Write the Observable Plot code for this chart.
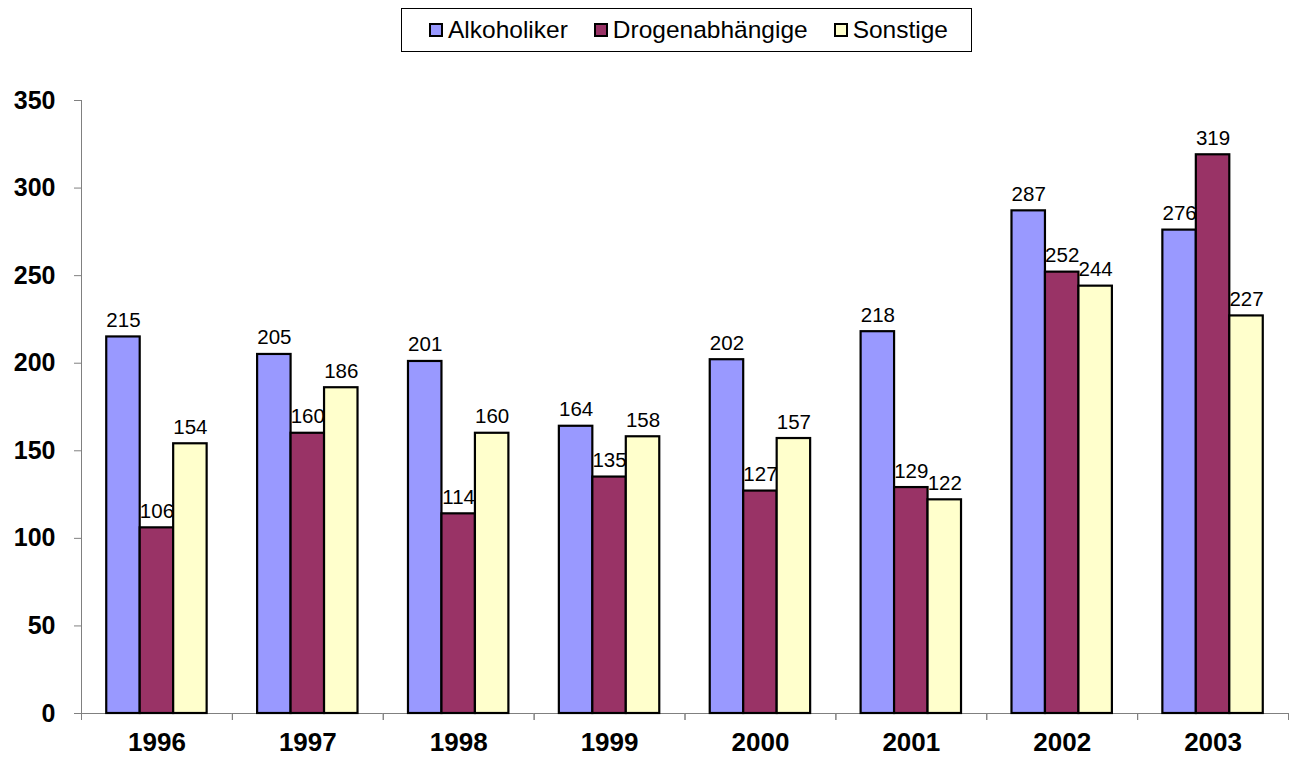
<!DOCTYPE html>
<html>
<head>
<meta charset="utf-8">
<script src="https://cdn.jsdelivr.net/npm/d3@7"></script>
<script src="https://cdn.jsdelivr.net/npm/@observablehq/plot@0.6"></script>
<style>
  html, body { margin: 0; padding: 0; background: #fff; }
  body { width: 1294px; height: 758px; overflow: hidden; font-family: "Liberation Sans", Arial, sans-serif; }
  #legend { position: relative; height: 60px; }
  #legend .box { position: absolute; left: 401px; top: 8px; width: 565px; height: 42px; border: 1px solid #000;
    display: flex; align-items: center; justify-content: center; gap: 26px; padding-left: 4px; box-sizing: content-box; }
  #legend .item { display: flex; align-items: center; font-size: 24.5px; color: #000; }
  #legend .sw { width: 10px; height: 10px; border: 2px solid #000; margin-right: 5px; }
  #chart svg { display: block; }
</style>
</head>
<body>
<div id="legend"><div class="box"></div></div>
<div id="chart"></div>
<script>
const years = ["1996", "1997", "1998", "1999", "2000", "2001", "2002", "2003"];
const series = ["Alkoholiker", "Drogenabhängige", "Sonstige"];
const alkoholiker = [215, 205, 201, 164, 202, 218, 287, 276];
const drogenabhaengige = [106, 160, 114, 135, 127, 129, 252, 319];
const sonstige = [154, 186, 160, 158, 157, 122, 244, 227];
const colors = ["#9999FF", "#993366", "#FFFFCC"];
const yTicks = [0, 50, 100, 150, 200, 250, 300, 350];

const valuesBySeries = [alkoholiker, drogenabhaengige, sonstige];
const rows = [];
years.forEach((year, i) => {
  series.forEach((s, j) => rows.push({year, series: s, value: valuesBySeries[j][i]}));
});

// legend
const box = document.querySelector("#legend .box");
series.forEach((s, j) => {
  const item = document.createElement("div");
  item.className = "item";
  const sw = document.createElement("span");
  sw.className = "sw";
  sw.style.background = colors[j];
  item.appendChild(sw);
  item.appendChild(document.createTextNode(s));
  box.appendChild(item);
});

const W = 1294, H = 698, mL = 81, mR = 6, mT = 40, mB = 45;
const step = (W - mL - mR) / years.length;
const axisGray = "#808080";

const plot = Plot.plot({
  width: W,
  height: H,
  marginTop: mT,
  marginBottom: mB,
  marginLeft: mL,
  marginRight: mR,
  style: {fontFamily: "'Liberation Sans', Arial, sans-serif", color: "#000", background: "#fff"},
  fx: {domain: years, paddingInner: 0, paddingOuter: 0, round: false, axis: null, label: null},
  x: {domain: series, paddingInner: 0, paddingOuter: 0.754, round: false, axis: null, label: null},
  y: {domain: [0, 350], nice: false, axis: null, label: null},
  color: {domain: series, range: colors},
  marks: [
    Plot.frame({anchor: "left", stroke: axisGray, facet: "super"}),
    Plot.ruleY([0], {stroke: axisGray}),
    Plot.axisY(yTicks, {tickSize: 7, tickPadding: 19, stroke: axisGray, fontSize: 25, fontWeight: "bold", label: null}),
    Plot.axisFx({anchor: "bottom", tickSize: 0, tickPadding: 19, fontSize: 26, fontWeight: "bold", label: null}),
    Plot.axisFx({anchor: "bottom", tickSize: 7, stroke: axisGray, dx: -step / 2, tickFormat: () => "", label: null}),
    Plot.axisFx([years[years.length - 1]], {anchor: "bottom", tickSize: 7, stroke: axisGray, dx: step / 2, tickFormat: () => "", label: null}),
    Plot.barY(rows, {fx: "year", x: "series", y: "value", fill: "series", stroke: "#000", strokeWidth: 2.2}),
    Plot.text(rows, {fx: "year", x: "series", y: "value", text: (d) => String(d.value), dy: -10, lineAnchor: "bottom", fontSize: 20.5, fill: "#000"})
  ]
});
document.getElementById("chart").appendChild(plot);
</script>
</body>
</html>
